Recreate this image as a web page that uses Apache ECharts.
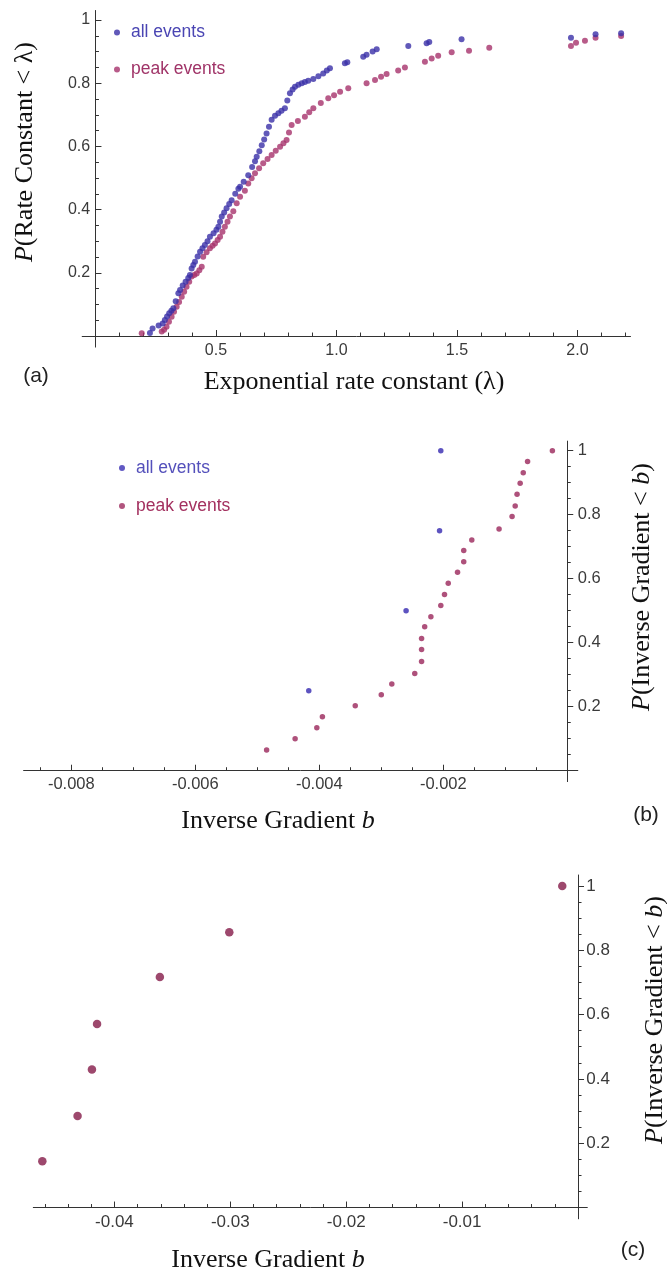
<!DOCTYPE html>
<html><head><meta charset="utf-8">
<script src="https://cdn.jsdelivr.net/npm/echarts@6.0.0/dist/echarts.min.js"></script>
<style>html,body{margin:0;padding:0;background:#fff}#c{width:667px;height:1282px}</style>
</head><body><div id="c"></div>
<script>
// ---------- Panel (a): ECDF of exponential rate constant ----------
const aAllX = [0.226,0.237,0.262,0.279,0.288,0.297,0.306,0.315,0.323,0.333,0.344,0.351,0.362,0.374,0.385,0.392,0.399,0.406,0.413,0.424,0.434,0.444,0.454,0.465,0.475,0.490,0.502,0.510,0.517,0.524,0.534,0.544,0.555,0.565,0.580,0.593,0.600,0.615,0.634,0.650,0.662,0.669,0.680,0.690,0.700,0.710,0.720,0.731,0.745,0.759,0.772,0.786,0.796,0.807,0.818,0.828,0.842,0.856,0.869,0.883,0.904,0.925,0.945,0.960,0.973,1.035,1.045,1.111,1.125,1.150,1.167,1.298,1.374,1.385,1.519,1.973,2.075,2.181];
const aAllY = [0.010,0.024,0.033,0.040,0.051,0.062,0.072,0.080,0.088,0.110,0.135,0.146,0.160,0.172,0.184,0.193,0.214,0.225,0.235,0.252,0.267,0.278,0.288,0.300,0.314,0.325,0.336,0.346,0.362,0.378,0.391,0.404,0.418,0.430,0.450,0.466,0.472,0.488,0.509,0.535,0.553,0.567,0.585,0.604,0.622,0.641,0.662,0.684,0.697,0.705,0.713,0.721,0.745,0.768,0.780,0.789,0.795,0.800,0.804,0.808,0.813,0.822,0.831,0.840,0.847,0.863,0.866,0.884,0.890,0.900,0.907,0.918,0.926,0.930,0.939,0.944,0.955,0.958];
const aPeakX = [0.192,0.275,0.285,0.295,0.305,0.316,0.326,0.337,0.347,0.358,0.368,0.378,0.389,0.399,0.410,0.420,0.431,0.441,0.447,0.461,0.475,0.486,0.496,0.507,0.517,0.527,0.537,0.548,0.558,0.572,0.586,0.600,0.620,0.634,0.648,0.662,0.679,0.696,0.714,0.731,0.748,0.766,0.780,0.793,0.803,0.814,0.840,0.869,0.887,0.904,0.935,0.966,0.990,1.015,1.049,1.125,1.160,1.185,1.208,1.256,1.284,1.367,1.395,1.422,1.478,1.550,1.634,1.973,1.994,2.031,2.075,2.181];
const aPeakY = [0.009,0.014,0.020,0.029,0.045,0.061,0.077,0.093,0.108,0.124,0.140,0.156,0.172,0.188,0.193,0.198,0.208,0.219,0.251,0.265,0.278,0.286,0.293,0.304,0.314,0.330,0.346,0.362,0.378,0.395,0.420,0.441,0.460,0.483,0.499,0.515,0.531,0.547,0.560,0.573,0.586,0.599,0.610,0.620,0.644,0.668,0.680,0.694,0.708,0.721,0.737,0.752,0.762,0.773,0.784,0.800,0.810,0.820,0.829,0.840,0.850,0.868,0.878,0.887,0.898,0.903,0.912,0.918,0.928,0.934,0.944,0.949];
const aXTicks = [0.5, 1.0, 1.5, 2.0];
const aYTicks = [0.2, 0.4, 0.6, 0.8, 1.0];

// ---------- Panel (b): ECDF of inverse gradient ----------
const bAllX = [-0.00417, -0.00260, -0.00206, -0.00204];
const bAllY = [0.25, 0.50, 0.75, 1.00];
const bPeakX = [-0.00485,-0.00439,-0.00404,-0.00395,-0.00342,-0.00300,-0.00283,-0.00246,-0.00235,-0.00235,-0.00235,-0.00230,-0.00220,-0.00204,-0.00198,-0.00192,-0.00177,-0.00167,-0.00167,-0.00154,-0.00110,-0.00089,-0.00084,-0.00081,-0.00076,-0.00071,-0.00064,-0.00024];
const bPeakY = [0.065,0.100,0.134,0.169,0.203,0.237,0.271,0.304,0.341,0.379,0.413,0.450,0.481,0.516,0.551,0.586,0.620,0.653,0.688,0.721,0.755,0.794,0.827,0.864,0.898,0.931,0.966,1.000];
const bXTicks = [-0.008, -0.006, -0.004, -0.002];
const bYTicks = [0.2, 0.4, 0.6, 0.8, 1.0];

// ---------- Panel (c) ----------
const cX = [-0.04622,-0.04318,-0.04194,-0.04150,-0.03608,-0.03009,-0.00136];
const cY = [0.144,0.285,0.429,0.571,0.717,0.856,1.000];
const cXTicks = [-0.04, -0.03, -0.02, -0.01];
const cYTicks = [0.2, 0.4, 0.6, 0.8, 1.0];

// minor tick positions (axis decoration)
function steps(from, to, step, skip) {
  const out = [];
  const n = Math.round((to - from) / step);
  for (let i = 0; i <= n; i++) {
    const v = +(from + i * step).toFixed(6);
    if (!skip.some(s => Math.abs(s - v) < 1e-9) && Math.abs(v) > 1e-12) out.push(v);
  }
  return out;
}
const aXMinor = steps(0.1, 2.2, 0.1, aXTicks);
const aYMinor = steps(0.05, 1.0, 0.05, aYTicks);
const bXMinor = steps(-0.0085, -0.0005, 0.0005, bXTicks);
const bYMinor = steps(0.05, 1.0, 0.05, bYTicks);
const cXMinor = steps(-0.046, -0.002, 0.002, cXTicks);
const cYMinor = steps(0.05, 1.0, 0.05, cYTicks);

const SANS = 'Liberation Sans, Arial, sans-serif';
const SERIF = 'Liberation Serif, Times New Roman, serif';
const AX = '#333';
const LBL = '#3a3a3a';
const BLUE = '#3a30a8';
const MAG = '#a6326c';

function axisPair(gi, min, max, major, minor, fmt, o) {
  const onIdx = o.onIdx;
  const base = {
    type: 'value', gridIndex: gi, min: min, max: max, position: o.pos,
    splitLine: {show: false}, minorTick: {show: false}
  };
  const maj = Object.assign({}, base, {
    axisLine: {show: true, onZero: true, onZeroAxisIndex: onIdx, lineStyle: {color: AX, width: 1}},
    axisTick: {show: true, customValues: major, inside: o.inside, length: 6, lineStyle: {color: AX, width: 1}},
    axisLabel: {show: true, customValues: major, formatter: fmt, margin: o.margin,
      fontFamily: SANS, fontSize: o.fs, color: LBL}
  });
  const mnr = Object.assign({}, base, {
    axisLine: {show: false, onZero: true, onZeroAxisIndex: onIdx},
    axisTick: {show: true, customValues: minor, inside: o.inside, length: 3.5, lineStyle: {color: AX, width: 1}},
    axisLabel: {show: false}
  });
  return [maj, mnr];
}
const fmtY = v => (Math.abs(v - 1) < 1e-9 ? '1' : v.toFixed(1));

const xAxes = [].concat(
  axisPair(0, -0.055, 2.22, aXTicks, aXMinor, v => v.toFixed(1), {onIdx: 0, pos: 'bottom', inside: true, margin: -5, fs: 16}),
  axisPair(1, -0.00877, 0.00017, bXTicks, bXMinor, v => v.toFixed(3), {onIdx: 2, pos: 'bottom', inside: true, margin: -6, fs: 16.5}),
  axisPair(2, -0.047, 0.0008, cXTicks, cXMinor, v => v.toFixed(2), {onIdx: 4, pos: 'bottom', inside: true, margin: -5, fs: 17})
);
const yAxes = [].concat(
  axisPair(0, -0.035, 1.03, aYTicks, aYMinor, fmtY, {onIdx: 0, pos: 'left', inside: true, margin: -8, fs: 16}),
  axisPair(1, -0.034, 1.03, bYTicks, bYMinor, fmtY, {onIdx: 2, pos: 'right', inside: false, margin: 0, fs: 16.5}),
  axisPair(2, -0.035, 1.034, cYTicks, cYMinor, fmtY, {onIdx: 4, pos: 'right', inside: false, margin: -1, fs: 17})
);

const zip = (xs, ys) => xs.map((x, i) => [x, ys[i]]);

function titleText(x, y, text, rot) {
  return {
    type: 'text', x: x, y: y, rotation: rot || 0,
    style: {
      text: text, fill: '#111', font: '26px ' + SERIF, align: 'center', verticalAlign: 'middle',
      rich: {i: {fontStyle: 'italic', fontFamily: SERIF, fontSize: 26, fill: '#111'},
             n: {fontFamily: SERIF, fontSize: 26, fill: '#111'}}
    }
  };
}
function panelLabel(x, y, text) {
  return {type: 'text', x: x, y: y, style: {text: text, fill: '#222', font: '21px ' + SANS, align: 'center', verticalAlign: 'middle'}};
}

const legendBase = {
  orient: 'vertical', icon: 'circle', itemWidth: 18, itemHeight: 6, selectedMode: false,
  textStyle: {fontFamily: SANS, fontSize: 17.5}
};

const option = {
  animation: false,
  backgroundColor: '#ffffff',
  grid: [
    {left: 82.2, top: 10.5, width: 548.3, height: 336.6},
    {left: 23.6, top: 441.1, width: 554.2, height: 340.5},
    {left: 33.3, top: 875, width: 554, height: 343.8}
  ],
  xAxis: xAxes,
  yAxis: yAxes,
  legend: [
    Object.assign({}, legendBase, {left: 109, top: 18.5, itemGap: 19,
      data: [{name: 'all events', itemStyle: {color: BLUE}, textStyle: {color: '#4a45b3'}},
             {name: 'peak events', itemStyle: {color: MAG}, textStyle: {color: '#a03468'}}]}),
    Object.assign({}, legendBase, {left: 114, top: 454, itemGap: 20,
      data: [{name: 'all events', itemStyle: {color: '#3a30b4'}, textStyle: {color: '#5450bb'}},
             {name: 'peak events', itemStyle: {color: '#9e2a5e'}, textStyle: {color: '#a3305f'}}]})
  ],
  series: [
    {name: 'peak events', type: 'scatter', xAxisIndex: 0, yAxisIndex: 0, symbol: 'circle', symbolSize: 6,
     itemStyle: {color: MAG}, data: zip(aPeakX, aPeakY)},
    {name: 'all events', type: 'scatter', xAxisIndex: 0, yAxisIndex: 0, symbol: 'circle', symbolSize: 6,
     itemStyle: {color: BLUE}, data: zip(aAllX, aAllY)},
    {name: 'peak events', type: 'scatter', xAxisIndex: 2, yAxisIndex: 2, symbol: 'circle', symbolSize: 5.5,
     itemStyle: {color: '#9a265a'}, data: zip(bPeakX, bPeakY)},
    {name: 'all events', type: 'scatter', xAxisIndex: 2, yAxisIndex: 2, symbol: 'circle', symbolSize: 5.5,
     itemStyle: {color: '#3528b0'}, data: zip(bAllX, bAllY)},
    {name: 'peak (c)', type: 'scatter', xAxisIndex: 4, yAxisIndex: 4, symbol: 'circle', symbolSize: 8.5,
     itemStyle: {color: '#841a48'}, data: zip(cX, cY)}
  ],
  graphic: [
    titleText(354, 382, 'Exponential rate constant (λ)'),
    titleText(25, 152, '{i|P}{n|(Rate Constant < λ)}', Math.PI / 2),
    panelLabel(36, 376, '(a)'),
    titleText(278, 821, '{n|Inverse Gradient }{i|b}'),
    titleText(642, 587, '{i|P}{n|(Inverse Gradient < }{i|b}{n|)}', Math.PI / 2),
    panelLabel(646, 815, '(b)'),
    titleText(268, 1260, '{n|Inverse Gradient }{i|b}'),
    titleText(655, 1020, '{i|P}{n|(Inverse Gradient < }{i|b}{n|)}', Math.PI / 2),
    panelLabel(633, 1250, '(c)')
  ]
};

const chart = echarts.init(document.getElementById('c'), null, {renderer: 'canvas'});
chart.setOption(option);
</script></body></html>
